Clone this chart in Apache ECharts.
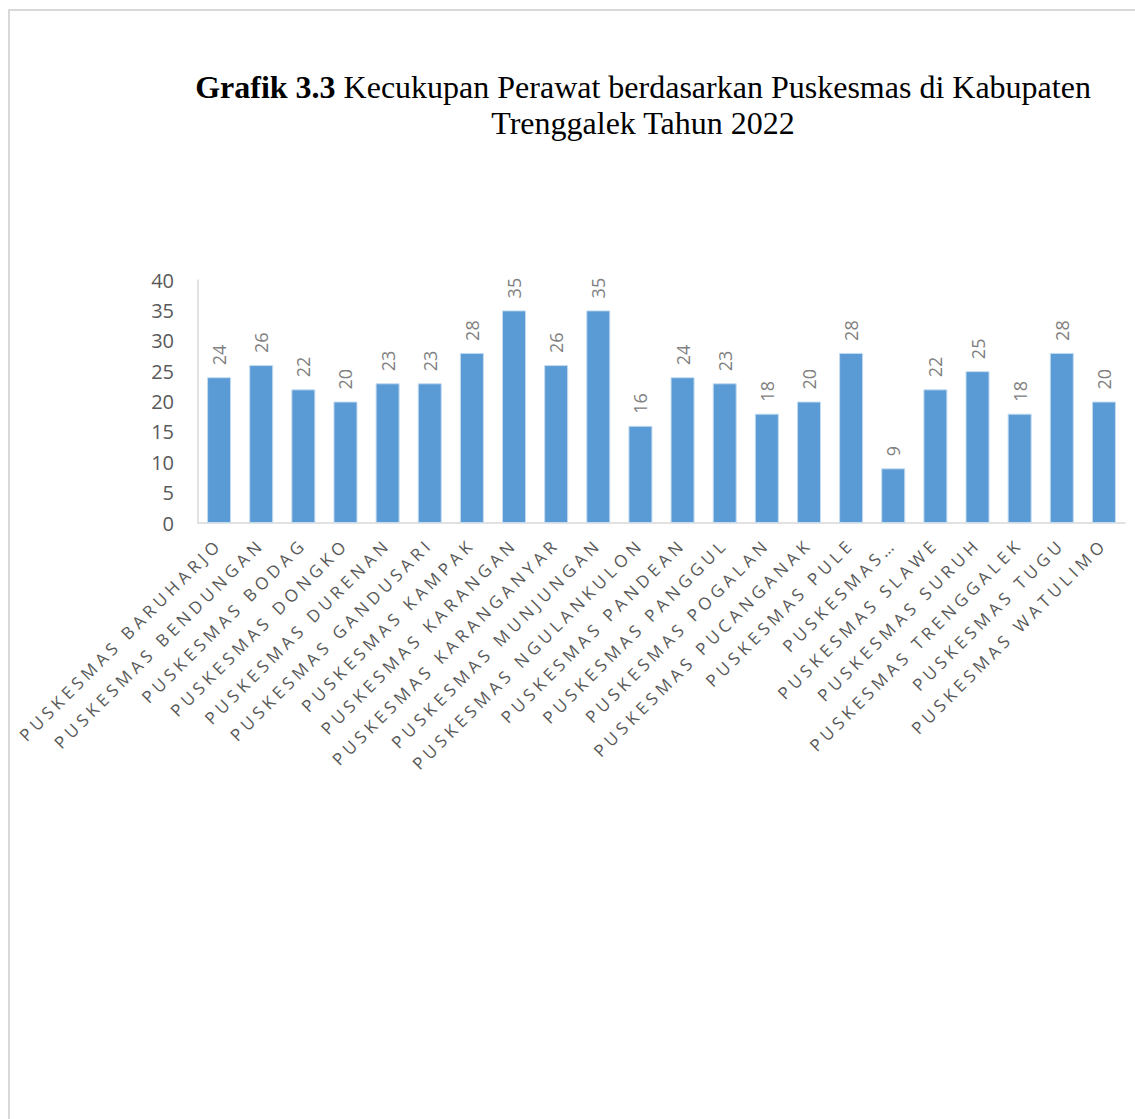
<!DOCTYPE html>
<html>
<head>
<meta charset="utf-8">
<script src="https://cdn.jsdelivr.net/npm/echarts@6/dist/echarts.min.js"></script>
<style>
  html, body { margin: 0; padding: 0; background: #fff; }
  #frame { position: absolute; left: 8px; top: 9px; width: 1200px; height: 1200px;
           border-left: 2px solid #d9d9d9; border-top: 2px solid #d9d9d9; }
  #chart { position: absolute; left: 0; top: 0; width: 1135px; height: 1119px; }
  #chart text[fill="#585858"] { letter-spacing: 4.3px; }
</style>
</head>
<body>
<div id="frame"></div>
<div id="chart"></div>
<script>
const categories = [
  "PUSKESMAS BARUHARJO", "PUSKESMAS BENDUNGAN", "PUSKESMAS BODAG", "PUSKESMAS DONGKO",
  "PUSKESMAS DURENAN", "PUSKESMAS GANDUSARI", "PUSKESMAS KAMPAK", "PUSKESMAS KARANGAN",
  "PUSKESMAS KARANGANYAR", "PUSKESMAS MUNJUNGAN", "PUSKESMAS NGULANKULON", "PUSKESMAS PANDEAN",
  "PUSKESMAS PANGGUL", "PUSKESMAS POGALAN", "PUSKESMAS PUCANGANAK", "PUSKESMAS PULE",
  "PUSKESMAS…", "PUSKESMAS SLAWE", "PUSKESMAS SURUH", "PUSKESMAS TRENGGALEK",
  "PUSKESMAS TUGU", "PUSKESMAS WATULIMO"
];
const values = [24, 26, 22, 20, 23, 23, 28, 35, 26, 35, 16, 24, 23, 18, 20, 28, 9, 22, 25, 18, 28, 20];
const yTicks = [0, 5, 10, 15, 20, 25, 30, 35, 40];
const titleBold = "Grafik 3.3";
const titleRest = "Kecukupan Perawat berdasarkan Puskesmas di Kabupaten";
const titleLine2 = "Trenggalek Tahun 2022";

const chart = echarts.init(document.getElementById('chart'), null, { renderer: 'svg' });
chart.setOption({
  animation: false,
  backgroundColor: 'transparent',
  title: {
    left: 638,
    top: 64,
    textAlign: 'center',
    text: '{b|' + titleBold + '}{n| ' + titleRest + '}\n{n|' + titleLine2 + '}',
    textStyle: {
      rich: {
        b: { fontFamily: 'Liberation Serif', fontWeight: 'bold', fontSize: 32, color: '#000', lineHeight: 36 },
        n: { fontFamily: 'Liberation Serif', fontWeight: 'normal', fontSize: 32, color: '#000', lineHeight: 36 }
      }
    }
  },
  grid: { left: 198, right: 10, top: 280, height: 243, containLabel: false },
  xAxis: {
    type: 'category',
    data: categories,
    axisLine: { show: true, lineStyle: { color: '#d9d9d9', width: 1.5 } },
    axisTick: { show: false },
    axisLabel: {
      interval: 0,
      rotate: 45,
      margin: 18,
      fontFamily: 'Open Sans',
      fontSize: 17,
      color: '#585858'
    }
  },
  yAxis: {
    type: 'value',
    min: yTicks[0],
    max: yTicks[yTicks.length - 1],
    interval: yTicks[1] - yTicks[0],
    axisLine: { show: true, lineStyle: { color: '#d9d9d9', width: 1.5 } },
    axisTick: { show: false },
    splitLine: { show: false },
    axisLabel: {
      margin: 24,
      fontFamily: 'Open Sans',
      fontSize: 20,
      color: '#595959'
    }
  },
  series: [{
    type: 'bar',
    data: values,
    barWidth: '57%',
    itemStyle: { color: '#5b9bd5', borderColor: '#c5dcf0', borderWidth: 1 },
    label: {
      show: true,
      position: 'top',
      rotate: 90,
      align: 'left',
      verticalAlign: 'middle',
      distance: 12,
      fontFamily: 'Open Sans',
      fontSize: 18,
      color: '#808080'
    }
  }]
});
</script>
</body>
</html>
